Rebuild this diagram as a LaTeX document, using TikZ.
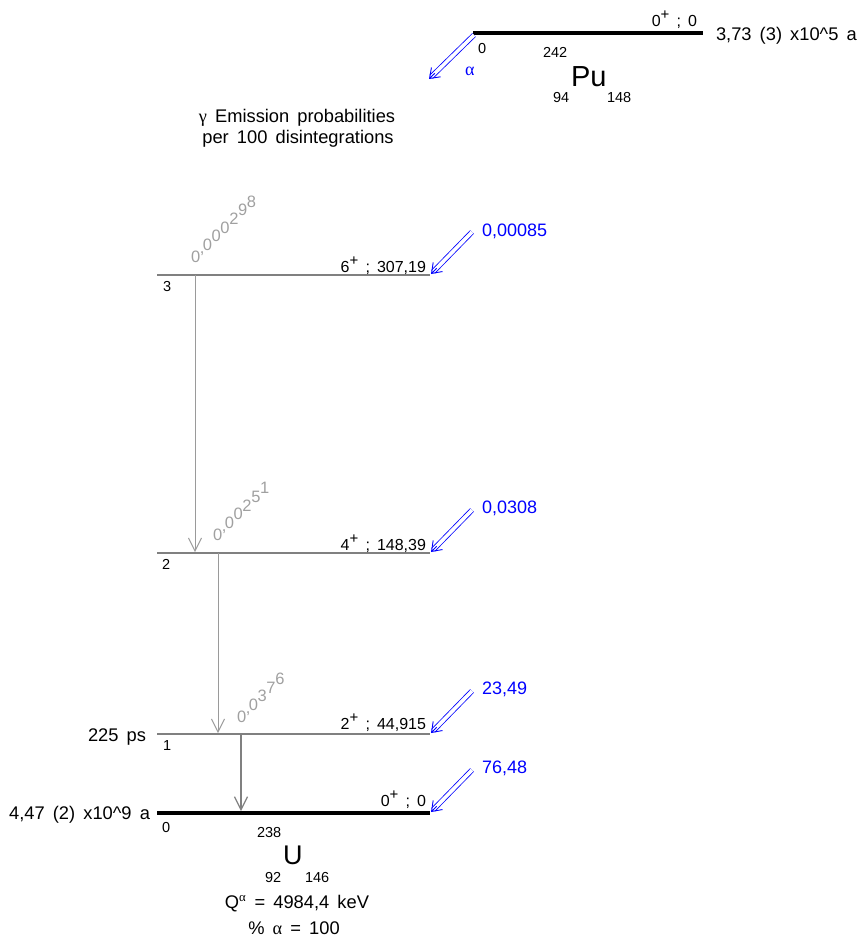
\documentclass[tikz,border=0pt]{standalone}
\usepackage{fontspec}
\setmainfont{Liberation Sans}[WordSpace=1.6]
\newfontfamily\grk{Liberation Serif}
\usetikzlibrary{arrows.meta,calc}
\definecolor{levgray}{HTML}{808080}
\definecolor{gamgray}{HTML}{9A9A9A}
\definecolor{labgray}{HTML}{A0A0A0}
\definecolor{fblue}{HTML}{0000FF}
\newcommand\fsz[1]{\fontsize{#1}{#1}\selectfont}
\newcommand\cm{,}
\newcommand\upp{\raisebox{0.40em}{\fsz{15}+}}
\begin{document}
\begin{tikzpicture}[x=1pt,y=-1pt,
  every node/.style={inner sep=0pt, outer sep=0pt},
  lev/.style={draw=levgray, line width=1.4pt},
  gslev/.style={draw=black, line width=4pt},
  gam/.style={draw=gamgray, line width=1pt, -{Straight Barb[length=13pt,width=13pt,line width=1pt]}},
  gamstrong/.style={draw=levgray, line width=2pt, -{Straight Barb[length=13pt,width=13pt,line width=1.2pt]}},
  feed/.style={draw=fblue, double, double distance=3.6pt, line width=0.8pt, shorten >=3pt},
  feedhead/.style={draw=fblue, line width=0.9pt, -{Straight Barb[length=9pt,width=13pt,line width=0.9pt]}},
  elab/.style={anchor=base east, font=\fsz{16}},
  nlab/.style={anchor=base west, font=\fsz{14.5}},
  big/.style={font=\fsz{18.3}},
  blab/.style={anchor=base west, font=\fsz{18}, text=fblue},
  glab/.style={anchor=base west, font=\fsz{16.5}, text=labgray},
  small/.style={anchor=base west, font=\fsz{14.5}},
]
\useasboundingbox (0,0) rectangle (861,943);

% ---------- Pu-242 parent ----------
\coordinate (PuL) at (473,33);
\coordinate (PuR) at (703,33);
\draw[gslev] (PuL) -- (PuR);
\node[elab] (pulab) at (697,26) {0\upp\ ; 0};
\node[nlab] (pun) at (478,53) {0};
\node[big, anchor=base west] (puhl) at (716,40) {3,73 (3) x10\^{}5 a};
\node[small] (puA) at (543,57) {242};
\node[anchor=base west, font=\fsz{29}] (puS) at (571,86) {Pu};
\node[small] (puZ) at (553,102) {94};
\node[small] (puN) at (607,102) {148};
\coordinate (alS) at (474,35);
\coordinate (alE) at (429,79);
\draw[feed] (alS) -- (alE);
\draw[feedhead] ($(alE)!8pt!(alS)$) -- (alE);
\node[anchor=base west, font=\fsz{18}\grk, text=fblue] (alpha) at (465,75) {α};

% ---------- header ----------
\node[big, anchor=base] (h1) at (297,122) {{\grk γ} Emission probabilities};
\node[big, anchor=base] (h2) at (298,143) {per 100 disintegrations};

% ---------- levels ----------
\coordinate (L3a) at (157,275); \coordinate (L3b) at (430,275);
\coordinate (L2a) at (157,553); \coordinate (L2b) at (430,553);
\coordinate (L1a) at (157,734); \coordinate (L1b) at (430,734);
\coordinate (L0a) at (157,813); \coordinate (L0b) at (430,813);
\draw[lev] (L3a) -- (L3b);
\draw[lev] (L2a) -- (L2b);
\draw[lev] (L1a) -- (L1b);
\draw[gslev] (L0a) -- (L0b);

\node[elab] (e3) at (426,272) {6\upp\ ; 307,19};
\node[elab] (e2) at (426,550) {4\upp\ ; 148,39};
\node[elab] (e1) at (426,729) {2\upp\ ; 44,915};
\node[elab] (e0) at (426,806) {0\upp\ ; 0};

\node[nlab] (n3) at (163,291) {3};
\node[nlab] (n2) at (162,569) {2};
\node[nlab] (n1) at (163,750) {1};
\node[nlab] (n0) at (162,832) {0};

\node[big, anchor=base east] (hl1) at (146,741) {225 ps};
\node[big, anchor=base east] (hl0) at (150,819) {4,47 (2) x10\^{}9 a};

% ---------- alpha feeding ----------
\coordinate (f3) at (472,232); \coordinate (t3) at (431,274);
\coordinate (f2) at (472,510); \coordinate (t2) at (431,552);
\coordinate (f1) at (472,691); \coordinate (t1) at (431,733);
\coordinate (f0) at (472,770); \coordinate (t0) at (431,812);
\foreach \k in {3,2,1,0}{
  \draw[feed] (f\k) -- (t\k);
  \draw[feedhead] ($(t\k)!8pt!(f\k)$) -- (t\k);
}
\node[blab] (b3) at (482,236) {0,00085};
\node[blab] (b2) at (482,513) {0,0308};
\node[blab] (b1) at (482,694) {23,49};
\node[blab] (b0) at (482,773) {76,48};

% ---------- gamma transitions ----------
\coordinate (g32s) at (195,275); \coordinate (g32e) at (195,552);
\coordinate (g21s) at (218,553); \coordinate (g21e) at (218,733);
\coordinate (g10s) at (241,734); \coordinate (g10e) at (241,811);
\draw[gam] (g32s) -- (g32e);
\draw[gam] (g21s) -- (g21e);
\draw[gamstrong] (g10s) -- (g10e);

\foreach \ch/\u [count=\i] in {0/0,\cm/1,0/1.35,0/2.35,0/3.35,2/4.35,9/5.35,8/6.35}
  \node[glab] (ga\i) at ({191+8.8*\u},{262-8.6*\u}) {\ch};
\foreach \ch/\u [count=\i] in {0/0,\cm/1,0/1.35,0/2.35,2/3.35,5/4.35,1/5.35}
  \node[glab] (gb\i) at ({213+8.8*\u},{540-8.6*\u}) {\ch};
\foreach \ch/\u [count=\i] in {0/0,\cm/1,0/1.35,3/2.35,7/3.35,6/4.35}
  \node[glab] (gc\i) at ({237+8.8*\u},{722-8.6*\u}) {\ch};

% ---------- daughter U-238 ----------
\node[small] (uA) at (257,837) {238};
\node[anchor=base west, font=\fsz{27}] (uS) at (283,864) {U};
\node[small] (uZ) at (265,882) {92};
\node[small] (uN) at (305,882) {146};
\node[big, anchor=base] (q) at (297,908) {Q\textsuperscript{\grk α} = 4984,4 keV};
\node[big, anchor=base] (pa) at (294,934) {\% {\grk α} = 100};
\end{tikzpicture}
\end{document}
